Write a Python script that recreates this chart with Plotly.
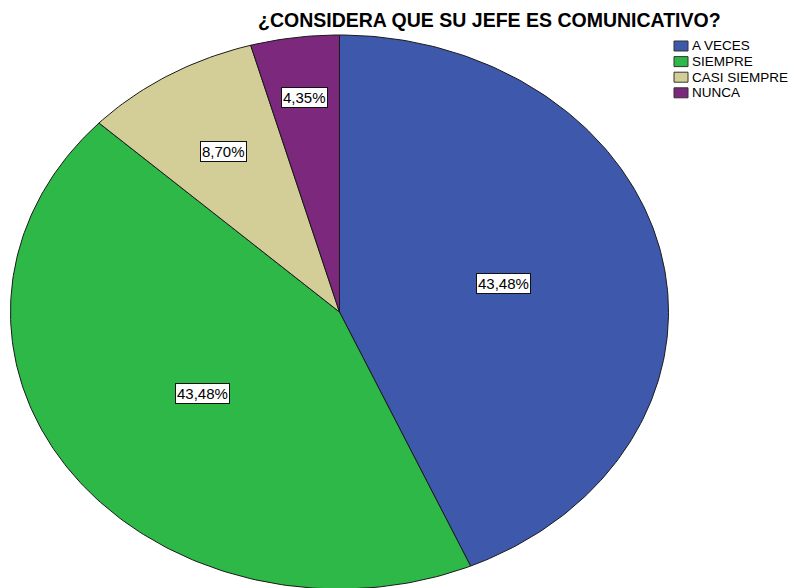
import numpy as np
import plotly.graph_objects as go

# Survey answers and their shares (%)
categories = ["A VECES", "SIEMPRE", "CASI SIEMPRE", "NUNCA"]
percentages = [43.48, 43.48, 8.70, 4.35]
title_text = "¿CONSIDERA QUE SU JEFE ES COMUNICATIVO?"

# Styling
colors = ["#3E58AC", "#2EB848", "#D3CE97", "#7C287D"]
label_radius = [0.51, 0.51, 0.68, 0.78]   # label distance from centre (fraction of radius)

W, H = 790, 588
CX, CY, RX, RY = 339.5, 312.0, 329.0, 277.0   # pie centre and radii in pixels

fig = go.Figure()

total = sum(percentages)
start = 0.0
for name, pct, col, lr in zip(categories, percentages, colors, label_radius):
    a0 = start / total * 2 * np.pi
    a1 = (start + pct) / total * 2 * np.pi
    t = np.linspace(a0, a1, max(int(pct * 4), 8))
    xs = np.concatenate([[0.0], np.sin(t), [0.0]])
    ys = np.concatenate([[0.0], np.cos(t), [0.0]])
    fig.add_trace(go.Scatter(
        x=xs, y=ys, mode="lines", fill="toself", fillcolor=col,
        line=dict(color="#1a1a1a", width=1), name=name, showlegend=False,
        hoverinfo="name",
    ))
    am = (a0 + a1) / 2
    fig.add_annotation(
        x=lr * np.sin(am), y=lr * np.cos(am), xref="x", yref="y",
        text=f"{pct:.2f}%".replace(".", ","), showarrow=False,
        font=dict(family="Arial", size=15, color="black"),
        bgcolor="white", bordercolor="#111111", borderwidth=1, borderpad=1,
    )
    start += pct

# Legend drawn as small swatches with labels
for i, (name, col) in enumerate(zip(categories, colors)):
    yc = 46 + i * 15.6
    fig.add_shape(type="rect", xref="paper", yref="paper",
                  x0=674 / W, x1=688 / W,
                  y0=1 - (yc + 5) / H, y1=1 - (yc - 5) / H,
                  fillcolor=col, line=dict(color="#333333", width=1))
    fig.add_annotation(x=690 / W, y=1 - yc / H, xref="paper", yref="paper",
                       text=name, showarrow=False, xanchor="left", yanchor="middle",
                       font=dict(family="Arial", size=13.5, color="black"))

fig.add_annotation(x=489.5 / W, y=1 - 20 / H, xref="paper", yref="paper",
                   text=f"<b>{title_text}</b>", showarrow=False,
                   xanchor="center", yanchor="middle",
                   font=dict(family="Arial", size=19.5, color="black"))

fig.update_xaxes(range=[-CX / RX, (W - CX) / RX], visible=False, fixedrange=True)
fig.update_yaxes(range=[(CY - H) / RY, CY / RY], visible=False, fixedrange=True)
fig.update_layout(
    width=W, height=H, margin=dict(l=0, r=0, t=0, b=0),
    paper_bgcolor="white", plot_bgcolor="white", showlegend=False,
)

fig.write_html("out.html")
